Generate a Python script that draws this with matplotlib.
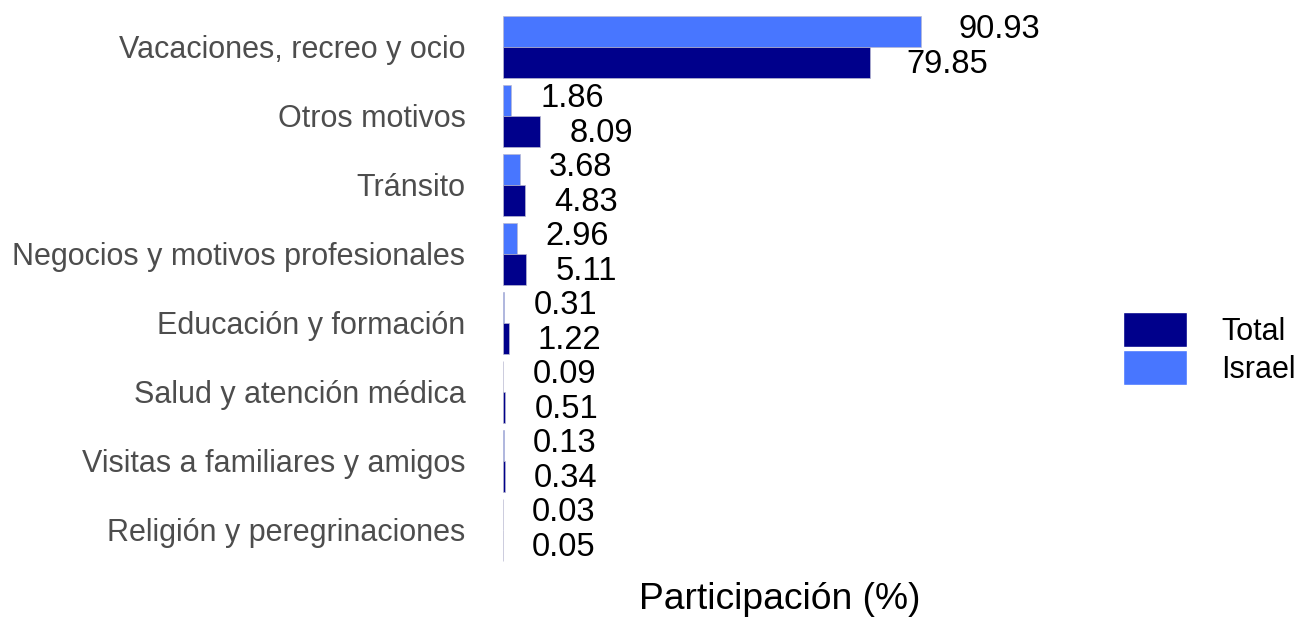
import numpy as np
import matplotlib.pyplot as plt
from matplotlib.patches import Patch

plt.rcParams['font.family'] = ['Liberation Sans', 'DejaVu Sans']

motivos = ['Vacaciones, recreo y ocio', 'Otros motivos', 'Tránsito',
           'Negocios y motivos profesionales', 'Educación y formación',
           'Salud y atención médica', 'Visitas a familiares y amigos',
           'Religión y peregrinaciones']
israel = [90.93, 1.86, 3.68, 2.96, 0.31, 0.09, 0.13, 0.03]
total = [79.85, 8.09, 4.83, 5.11, 1.22, 0.51, 0.34, 0.05]

c_total = '#00008B'
c_israel = '#4876FF'
fs = 22

fig = plt.figure(figsize=(13.06, 6.17), dpi=100)
ax = fig.add_axes([0.3851, 0.0746, 0.4242, 0.9164])

y = np.arange(len(motivos))
h = 0.45
ax.barh(y - h / 2, israel, height=h, color=c_israel, edgecolor='#b8b8d0', linewidth=0.5)
ax.barh(y + h / 2, total, height=h, color=c_total, edgecolor='#b8b8d0', linewidth=0.5)

for i in range(len(motivos)):
    ax.text(israel[i] * 1.02 + 6.3, y[i] - h / 2 - 0.03, '%.2f' % israel[i],
            ha='left', va='center', fontsize=23.5, color='black')
    ax.text(total[i] * 1.02 + 6.3, y[i] + h / 2 + 0.03, '%.2f' % total[i],
            ha='left', va='center', fontsize=23.5, color='black')

ax.set_xlim(0, 120.5)
ax.set_ylim(len(motivos) - 0.4, -0.6)
ax.set_yticks(y)
ax.set_yticklabels(motivos, fontsize=fs, color='#4D4D4D')
ax.tick_params(axis='y', length=0, pad=27)
ax.set_xticks([])
for s in ax.spines.values():
    s.set_visible(False)
ax.set_xlabel('Participación (%)', fontsize=26.8, labelpad=8)

handles = [Patch(facecolor=c_total, edgecolor='white'),
           Patch(facecolor=c_israel, edgecolor='white')]
fig.legend(handles, ['Total', 'Israel'], loc='center left',
           bbox_to_anchor=(0.86, 0.435), frameon=False, fontsize=fs,
           borderpad=0, borderaxespad=0,
           handlelength=2.1, handleheight=1.4, handletextpad=1.1,
           labelspacing=0.1)

fig.savefig('out.png', dpi=100)
